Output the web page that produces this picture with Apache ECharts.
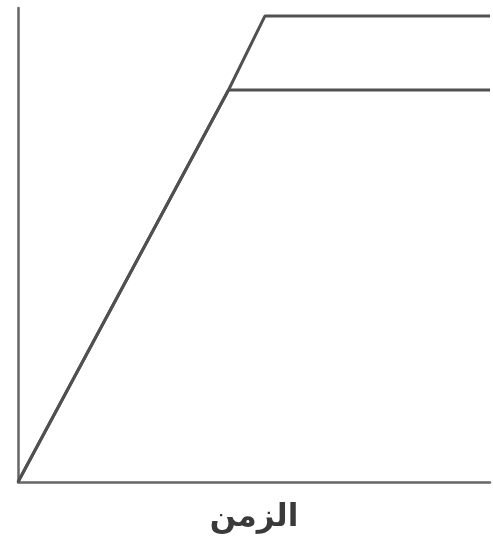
<!DOCTYPE html>
<html>
<head>
<meta charset="utf-8">
<script src="https://cdn.jsdelivr.net/npm/echarts@6/dist/echarts.min.js"></script>
<style>html,body{margin:0;padding:0;background:#fff}#c{width:493px;height:545px}</style>
</head>
<body>
<div id="c"></div>
<script>
var xAxisName = 'الزمن';
var upperSeries = [[0, 0], [44.6, 82.7], [52.3, 98.3], [100, 98.3]];
var lowerSeries = [[0, 0], [44.6, 82.7], [100, 82.7]];

var chart = echarts.init(document.getElementById('c'), null, {renderer: 'canvas'});
var lineStyle = {color: '#505050', width: 3};
chart.setOption({
  animation: false,
  backgroundColor: '#ffffff',
  grid: {left: 18, right: 3, top: 8, bottom: 63, containLabel: false, outerBoundsMode: 'none'},
  xAxis: {
    type: 'value', min: 0, max: 100,
    name: xAxisName, nameLocation: 'middle', nameGap: 20,
    nameTextStyle: {fontFamily: 'DejaVu Sans', fontSize: 31, fontWeight: 'bold', color: '#3a3a3a'},
    axisLine: {show: true, lineStyle: {color: '#666', width: 2.5}},
    axisTick: {show: false}, axisLabel: {show: false}, splitLine: {show: false}
  },
  yAxis: {
    type: 'value', min: 0, max: 100,
    axisLine: {show: true, lineStyle: {color: '#666', width: 2.5}},
    axisTick: {show: false}, axisLabel: {show: false}, splitLine: {show: false}
  },
  series: [
    {type: 'line', data: upperSeries, showSymbol: false, lineStyle: lineStyle},
    {type: 'line', data: lowerSeries, showSymbol: false, lineStyle: lineStyle}
  ]
});
</script>
</body>
</html>
